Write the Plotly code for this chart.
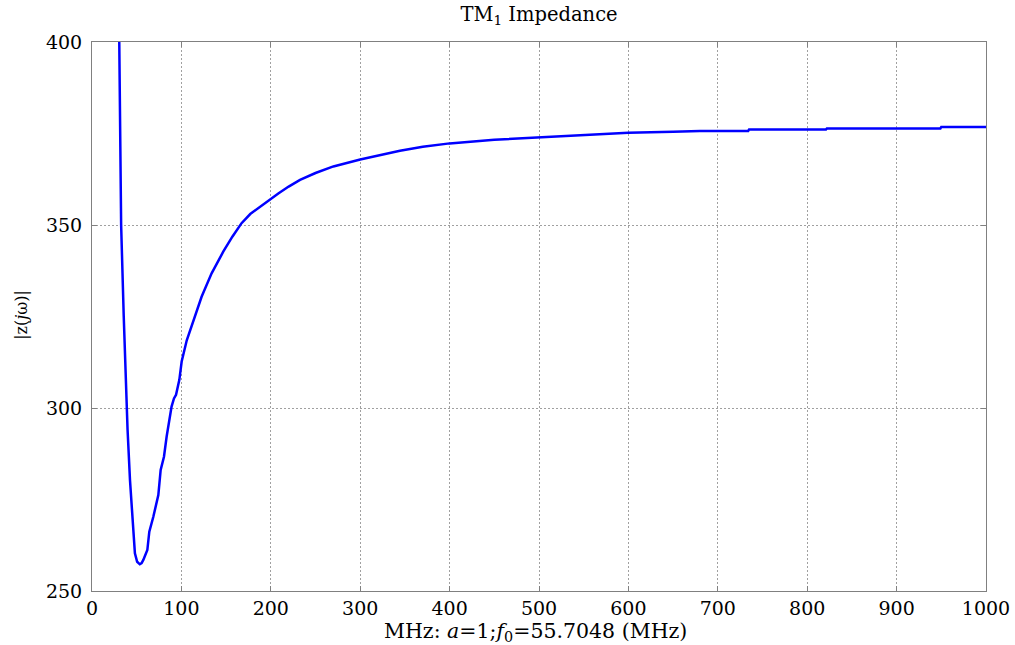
import plotly.graph_objects as go

# Frequency (MHz) and impedance magnitude |z(jw)|
freq_mhz = [30.5, 32.6, 35.5, 38.6, 39.8, 42.5, 46.2, 48.0, 50.5, 53.5, 55.5,
            57.4, 61.9, 64.1, 68.6, 74.2, 76.8, 80.5, 83.5, 89.0, 91.7, 94.0,
            97.7, 100.3, 106.0, 113.3, 122.6, 133.8, 146.8, 157.0, 167.3,
            177.0, 187.9, 200.0, 208.4, 220.0, 232.7, 250.0, 270.0, 300.0,
            320.0, 344.5, 370.0, 400.0, 450.0, 500.0, 550.0, 600.0, 650.0,
            680.0, 734.0, 735.0, 821.0, 822.0, 949.0, 950.0, 1000.0]
z_mag = [400.0, 350.0, 325.0, 300.0, 294.0, 280.3, 266.7, 260.3, 258.0, 257.3, 257.6,
         258.5, 261.2, 266.2, 270.3, 276.2, 283.1, 286.7, 292.2, 300.4, 302.6, 303.6,
         307.7, 312.7, 318.5, 324.0, 330.4, 336.8, 342.7, 346.8, 350.5,
         353.0, 355.0, 357.2, 358.6, 360.5, 362.3, 364.2, 366.0, 367.9,
         369.0, 370.3, 371.4, 372.3, 373.3, 374.0, 374.6, 375.2, 375.5,
         375.7, 375.7, 376.1, 376.1, 376.4, 376.4, 376.8, 376.8]

x_ticks = [0, 100, 200, 300, 400, 500, 600, 700, 800, 900, 1000]
y_ticks = [250, 300, 350, 400]

FONT = "DejaVu Serif, serif"

fig = go.Figure()
fig.add_trace(go.Scatter(x=freq_mhz, y=z_mag, mode="lines",
                         line=dict(color="#0000ff", width=2.5),
                         showlegend=False, hoverinfo="x+y"))

axis_common = dict(showgrid=True, gridcolor="#a0a0a0", griddash="2px,2px", gridwidth=1,
                   showline=True, linecolor="#808080", linewidth=1, mirror="ticks",
                   ticks="inside", ticklen=5, tickcolor="#808080", zeroline=False,
                   automargin=False,
                   tickfont=dict(family=FONT, size=19, color="black"))

fig.update_layout(
    width=1015, height=645,
    margin=dict(l=92, r=29, t=42, b=54),
    paper_bgcolor="white", plot_bgcolor="white",
    font=dict(family=FONT, color="black"),
    title=dict(text="TM<sub>1</sub> Impedance", x=0.5, xref="paper",
               y=0.978, yref="container", yanchor="middle",
               font=dict(family=FONT, size=19.5, color="black")),
    xaxis=dict(range=[0, 1000], tickvals=x_ticks, ticktext=[str(v) for v in x_ticks],
               ticklabelstandoff=0, **axis_common),
    yaxis=dict(range=[250, 400], tickvals=y_ticks, ticktext=[str(v) for v in y_ticks],
               ticklabelstandoff=5, **axis_common),
    annotations=[
        dict(text="MHz: <i>a</i>=1;<i>f</i><sub>0</sub>=55.7048 (MHz)",
             xref="paper", yref="paper", x=0.4966, y=-0.0747,
             xanchor="center", yanchor="middle", showarrow=False,
             font=dict(family=FONT, size=20.5, color="black")),
        dict(text="|z(<i>j</i>ω)|", textangle=-90,
             xref="paper", yref="paper", x=-0.0783, y=0.503,
             xanchor="center", yanchor="middle", showarrow=False,
             font=dict(family=FONT, size=16, color="black")),
    ],
)

fig.write_html("out.html", config={"displayModeBar": False},
               post_script="document.body.style.margin='0';")
